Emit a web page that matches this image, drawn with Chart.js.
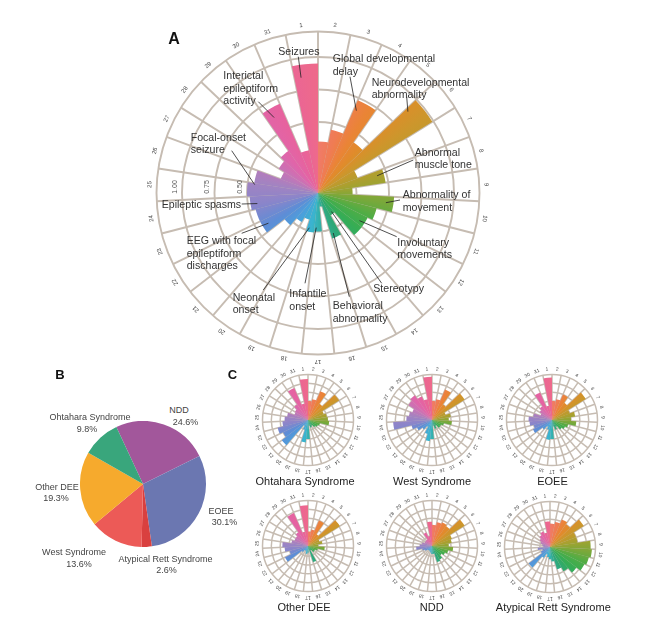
<!DOCTYPE html>
<html>
<head>
<meta charset="utf-8">
<script src="https://cdn.jsdelivr.net/npm/chart.js@4.4.1/dist/chart.umd.min.js"></script>
<style>
  body { margin: 0; background: #fff; }
  #fig { position: relative; width: 655px; height: 623px; overflow: hidden;
         font-family: "Liberation Sans", Arial, sans-serif; color: #333; background: #fff; }
  #fig canvas { position: absolute; }
  .t { position: absolute; white-space: nowrap; line-height: 1; transform: translateY(-50%); }
  .c { position: absolute; white-space: nowrap; line-height: 1; transform: translate(-50%, -50%); }
</style>
</head>
<body>
<div id="fig">
  <canvas id="wheelA" width="344" height="344" style="left:146px;top:21px"></canvas>
  <canvas id="pieB" width="126" height="126" style="left:80px;top:421px"></canvas>
</div>
<script>
// ---- data ----
const categoryNumbers = ["1", "2", "3", "4", "5", "6", "7", "8", "9", "10", "11", "12", "13", "14", "15", "16",
  "17", "18", "19", "20", "21", "22", "23", "24", "25", "26", "27", "28", "29", "30", "31"];

// panel A, all patients
const overallFreq = [0.95, 0.35, 0.45, 0.73, 0.43, 0.99, 0.28, 0.48, 0.22, 0.54, 0.42, 0.38, 0.38, 0.15, 0.32, 0.06,
  0.25, 0.26, 0.17, 0.21, 0.28, 0.45, 0.45, 0.48, 0.50, 0.45, 0.26, 0.31, 0.35, 0.70, 0.29];
const radialTicksA = [0.25, 0.5, 0.75, 1.0];
const radialLabelsA = [0.5, 0.75, 1.0];

// panel C, by subtype (share of outer ring)
const ohtaharaFreq = [0.90, 0.40, 0.45, 0.68, 0.42, 0.80, 0.35, 0.40, 0.42, 0.45, 0.25, 0.22, 0.18, 0.12, 0.15, 0.10,
  0.40, 0.48, 0.20, 0.12, 0.72, 0.60, 0.68, 0.55, 0.50, 0.45, 0.30, 0.32, 0.40, 0.76, 0.35];
const westFreq = [0.95, 0.40, 0.45, 0.72, 0.40, 0.84, 0.30, 0.40, 0.35, 0.42, 0.25, 0.20, 0.20, 0.12, 0.18, 0.10,
  0.40, 0.45, 0.30, 0.15, 0.25, 0.35, 0.45, 0.85, 0.55, 0.50, 0.45, 0.60, 0.65, 0.55, 0.45];
const eoeeFreq = [0.93, 0.40, 0.45, 0.60, 0.45, 0.87, 0.40, 0.50, 0.40, 0.52, 0.35, 0.30, 0.25, 0.15, 0.20, 0.12,
  0.40, 0.42, 0.20, 0.15, 0.25, 0.45, 0.40, 0.48, 0.50, 0.40, 0.25, 0.30, 0.35, 0.65, 0.30];
const otherDeeFreq = [0.89, 0.30, 0.35, 0.60, 0.30, 0.82, 0.25, 0.30, 0.20, 0.35, 0.20, 0.15, 0.15, 0.08, 0.35, 0.05,
  0.12, 0.15, 0.10, 0.08, 0.15, 0.55, 0.40, 0.50, 0.55, 0.35, 0.30, 0.30, 0.35, 0.78, 0.30];
const nddFreq = [0.52, 0.45, 0.52, 0.55, 0.52, 0.84, 0.45, 0.42, 0.35, 0.45, 0.35, 0.30, 0.25, 0.32, 0.35, 0.15,
  0.15, 0.12, 0.10, 0.08, 0.10, 0.15, 0.20, 0.33, 0.25, 0.20, 0.15, 0.15, 0.15, 0.30, 0.20];
const rettFreq = [0.55, 0.50, 0.55, 0.65, 0.60, 0.87, 0.60, 0.60, 0.89, 0.92, 0.88, 0.84, 0.73, 0.60, 0.50, 0.30,
  0.25, 0.20, 0.15, 0.25, 0.58, 0.20, 0.15, 0.25, 0.12, 0.15, 0.20, 0.25, 0.30, 0.35, 0.30];

// panel B
const subtypeNames = ["NDD", "EOEE", "Atypical Rett Syndrome", "West Syndrome", "Other DEE", "Ohtahara Syndrome"];
const subtypeShare = [24.6, 30.1, 2.6, 13.6, 19.3, 9.8];

// ---- styles ----
const gridColor = "#c6bcb2";
const pieColors = ["#a2579b", "#6b77b1", "#d9403f", "#ec5a57", "#f6aa2d", "#39a67c"];
const wheelStops = [
  [0.000, "#f07a6a"], [0.050, "#ef7c52"], [0.085, "#ea8436"], [0.120, "#df8c2a"],
  [0.150, "#cd962c"], [0.190, "#b69d2e"], [0.225, "#9fa331"], [0.270, "#7ba83a"],
  [0.320, "#4dad46"], [0.370, "#35ad55"], [0.430, "#2ea878"], [0.490, "#33b0a8"],
  [0.530, "#3ab4cf"], [0.600, "#4aa0dc"], [0.660, "#5d8dd6"], [0.720, "#8a85ca"],
  [0.780, "#a383c1"], [0.840, "#c774b6"], [0.890, "#e065aa"], [0.940, "#e8629c"],
  [1.000, "#ee6a8a"]
];

const fig = document.getElementById("fig");
const FONT = '"Liberation Sans", Arial, sans-serif';

function wheelFill(c) {
  const chart = c.chart, s = chart.scales.r, ctx = chart.ctx;
  if (!s || !isFinite(s.xCenter)) return "#ccc";
  if (!ctx.createConicGradient) return "hsl(" + (c.dataIndex * 360 / 31) + ",55%,58%)";
  const key = s.xCenter + "," + s.yCenter;
  if (chart.$fillKey !== key) {
    const g = ctx.createConicGradient(-Math.PI / 2, s.xCenter, s.yCenter);
    wheelStops.forEach(([t, col]) => g.addColorStop(t, col));
    chart.$fill = g;
    chart.$fillKey = key;
  }
  return chart.$fill;
}

const wheelPlugin = {
  id: "wheel",
  beforeDatasetsDraw(chart, args, o) {
    const s = chart.scales.r, ctx = chart.ctx;
    const n = chart.data.labels.length, step = 2 * Math.PI / n;
    const a0 = s.getIndexAngle(0) - Math.PI / 2;
    const rOut = s.getDistanceFromCenterForValue(o.outer);
    ctx.save();
    ctx.strokeStyle = gridColor;
    ctx.lineWidth = o.gridWidth;
    for (let i = 0; i < n; i++) {
      const a = a0 + i * step;
      ctx.beginPath();
      ctx.moveTo(s.xCenter, s.yCenter);
      ctx.lineTo(s.xCenter + rOut * Math.cos(a), s.yCenter + rOut * Math.sin(a));
      ctx.stroke();
    }
    ctx.restore();
  },
  afterDatasetsDraw(chart, args, o) {
    const s = chart.scales.r, ctx = chart.ctx;
    const n = chart.data.labels.length, step = 2 * Math.PI / n;
    const a0 = s.getIndexAngle(0) - Math.PI / 2;
    const rLab = s.getDistanceFromCenterForValue(o.outer) + o.labelGap;
    ctx.save();
    ctx.fillStyle = "#444";
    ctx.font = o.labelSize + "px " + FONT;
    ctx.textAlign = "center";
    ctx.textBaseline = "middle";
    chart.data.labels.forEach((lab, i) => {
      const a = a0 + (i + 0.5) * step;
      ctx.save();
      ctx.translate(s.xCenter + rLab * Math.cos(a), s.yCenter + rLab * Math.sin(a));
      ctx.rotate(a + Math.PI / 2);
      ctx.fillText(lab, 0, 0);
      ctx.restore();
    });
    // radial value labels
    (o.valueLabels || []).forEach(v => {
      const r = s.getDistanceFromCenterForValue(v) + 7;
      ctx.save();
      ctx.translate(s.xCenter - r, s.yCenter - 6);
      ctx.rotate(-Math.PI / 2);
      ctx.font = "7px " + FONT;
      ctx.fillStyle = "#555";
      ctx.fillText(v.toFixed(2), 0, 0);
      ctx.restore();
    });
    // leader lines from annotation text to bars
    const meta = chart.getDatasetMeta(0);
    ctx.strokeStyle = "#222";
    ctx.lineWidth = 0.8;
    (o.notes || []).forEach(nt => {
      const arc = meta.data[nt.bar];
      const a = arc.startAngle + (arc.endAngle - arc.startAngle) * nt.pos;
      const r = arc.outerRadius * 0.9;
      ctx.beginPath();
      ctx.moveTo(nt.from[0] - o.offset[0], nt.from[1] - o.offset[1]);
      ctx.lineTo(arc.x + r * Math.cos(a), arc.y + r * Math.sin(a));
      ctx.stroke();
    });
    ctx.restore();
  }
};

function wheelChart(canvas, values, opt) {
  return new Chart(canvas, {
    type: "polarArea",
    data: {
      labels: categoryNumbers,
      datasets: [{ data: values, backgroundColor: wheelFill, borderWidth: 0 }]
    },
    options: {
      responsive: false,
      animation: false,
      events: [],
      layout: { padding: 0 },
      plugins: {
        legend: { display: false },
        tooltip: { enabled: false },
        wheel: opt.plugin
      },
      scales: {
        r: {
          min: opt.min,
          max: opt.max,
          startAngle: -360 / categoryNumbers.length,
          ticks: { display: false },
          pointLabels: { display: false },
          angleLines: { display: false },
          grid: { circular: true, color: gridColor, lineWidth: opt.plugin.gridWidth },
          afterBuildTicks: axis => {
            axis.ticks = opt.rings.concat([opt.plugin.outer]).map(v => ({ value: v }));
          }
        }
      }
    },
    plugins: [wheelPlugin]
  });
}

// ---- panel A ----
const notesA = [
  { lines: ["Seizures"], x: 278.3, y: 50.8, from: [298.3, 56.7], bar: 0, pos: 0.28 },
  { lines: ["Global developmental", "delay"], x: 332.7, y: 58.3, from: [350, 76.7], bar: 3, pos: 0.15 },
  { lines: ["Neurodevelopmental", "abnormality"], x: 371.7, y: 81.7, from: [406.7, 96.7], bar: 5, pos: 0.12 },
  { lines: ["Abnormal", "muscle tone"], x: 414.7, y: 151.7, from: [413.3, 160], bar: 7, pos: 0.35 },
  { lines: ["Abnormality of", "movement"], x: 402.7, y: 194, from: [400, 200], bar: 9, pos: 0.45 },
  { lines: ["Involuntary", "movements"], x: 397.3, y: 241.7, from: [396.7, 236.7], bar: 11, pos: 0.65 },
  { lines: ["Stereotypy"], x: 373.3, y: 287.5, from: [381.7, 283.3], bar: 13, pos: 0.4 },
  { lines: ["Behavioral", "abnormality"], x: 332.7, y: 305, from: [349.3, 296.7], bar: 14, pos: 0.7 },
  { lines: ["Infantile", "onset"], x: 289.3, y: 293.3, from: [305, 283.3], bar: 16, pos: 0.75 },
  { lines: ["Neonatal", "onset"], x: 232.7, y: 296.7, from: [263.3, 290], bar: 17, pos: 0.7 },
  { lines: ["EEG with focal", "epileptiform", "discharges"], x: 186.7, y: 240, from: [241.7, 233.3], bar: 21, pos: 0.55 },
  { lines: ["Epileptic spasms"], x: 161.7, y: 204.2, from: [241.7, 204], bar: 23, pos: 0.4 },
  { lines: ["Focal-onset", "seizure"], x: 190.7, y: 136.7, from: [231.7, 150.7], bar: 24, pos: 0.9 },
  { lines: ["Interictal", "epileptiform", "activity"], x: 223.3, y: 75, from: [258.3, 101.7], bar: 29, pos: 0.4 }
];

// outer ring of A sits at 1.196, 161.5px out of a 172px drawing radius
const outerA = 1.196, minA = -0.046;
wheelChart(document.getElementById("wheelA"), overallFreq, {
  min: minA,
  max: minA + (outerA - minA) * 172 / 161.5,
  rings: radialTicksA,
  plugin: { outer: outerA, gridWidth: 1.9, labelGap: 7, labelSize: 6,
            valueLabels: radialLabelsA, notes: notesA, offset: [146, 21] }
});

function addText(txt, x, y, cls, style) {
  const d = document.createElement("div");
  d.className = cls;
  d.textContent = txt;
  d.style.left = x + "px";
  d.style.top = y + "px";
  Object.assign(d.style, style || {});
  fig.appendChild(d);
}

notesA.forEach(nt => {
  nt.lines.forEach((ln, k) => addText(ln, nt.x, nt.y + k * 12.6, "t", { fontSize: "10.6px", color: "#333" }));
});

// ---- panel B ----
new Chart(document.getElementById("pieB"), {
  type: "pie",
  data: {
    labels: subtypeNames,
    datasets: [{ data: subtypeShare, backgroundColor: pieColors, borderWidth: 0 }]
  },
  options: {
    responsive: false,
    animation: false,
    events: [],
    rotation: -25,
    plugins: { legend: { display: false }, tooltip: { enabled: false } }
  }
});

const pieText = [
  ["NDD", 179, 410], ["24.6%", 185.5, 421.5],
  ["EOEE", 221, 511], ["30.1%", 224.5, 521.5],
  ["Atypical Rett Syndrome", 165.5, 558.5], ["2.6%", 166.5, 570],
  ["West Syndrome", 74, 551.5], ["13.6%", 79, 563.5],
  ["Other DEE", 57, 486.5], ["19.3%", 56, 497.5],
  ["Ohtahara Syndrome", 90, 416.5], ["9.8%", 87, 428.5]
];
pieText.forEach(([s, x, y]) => addText(s, x, y, "c", { fontSize: "9px", color: "#444" }));

// ---- panel C ----
const smallSets = [
  { name: "Ohtahara Syndrome", values: ohtaharaFreq, cx: 308, cy: 419.5, ty: 480.5, tx: 305 },
  { name: "West Syndrome", values: westFreq, cx: 432, cy: 419.5, ty: 480.5, tx: 432 },
  { name: "EOEE", values: eoeeFreq, cx: 551.5, cy: 420, ty: 480.5, tx: 552.5 },
  { name: "Other DEE", values: otherDeeFreq, cx: 308, cy: 545.5, ty: 606.5, tx: 304 },
  { name: "NDD", values: nddFreq, cx: 432, cy: 545.5, ty: 606.5, tx: 431.7 },
  { name: "Atypical Rett Syndrome", values: rettFreq, cx: 550, cy: 546.5, ty: 606.5, tx: 553.3 }
];
const smallRings = [0.2, 0.4, 0.6, 0.8];
const outerC = 1.0, minC = -0.03;
smallSets.forEach(p => {
  const cv = document.createElement("canvas");
  cv.width = 112;
  cv.height = 112;
  cv.style.left = Math.round(p.cx - 56) + "px";
  cv.style.top = Math.round(p.cy - 56) + "px";
  fig.appendChild(cv);
  wheelChart(cv, p.values, {
    min: minC,
    max: minC + (outerC - minC) * 56 / 45.5,
    rings: smallRings,
    plugin: { outer: outerC, gridWidth: 1.5, labelGap: 5.5, labelSize: 4.8 }
  });
  addText(p.name, p.tx, p.ty, "c", { fontSize: "11px", color: "#222" });
});

// panel letters
addText("A", 174, 38.5, "c", { fontSize: "16px", fontWeight: "bold", color: "#111" });
addText("B", 60, 374, "c", { fontSize: "13px", fontWeight: "bold", color: "#111" });
addText("C", 232.5, 374, "c", { fontSize: "13px", fontWeight: "bold", color: "#111" });
</script>
</body>
</html>
